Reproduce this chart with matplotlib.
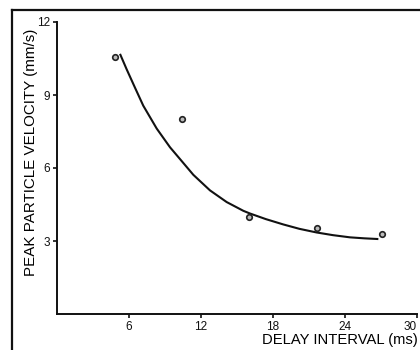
import matplotlib.pyplot as plt
from matplotlib.lines import Line2D

# measured points
delay = [4.8, 10.4, 16.0, 21.7, 27.1]
velocity = [10.55, 8.0, 4.0, 3.54, 3.29]

# fitted curve
curve_x = [5.25, 5.81, 6.5, 7.19, 8.31, 9.42, 10.4, 11.36, 12.75, 14.14,
           15.53, 16.08, 17.4, 18.86, 20.2, 21.64, 23.0, 24.42, 25.6, 26.78]
curve_y = [10.69, 10.05, 9.30, 8.56, 7.62, 6.85, 6.28, 5.72, 5.08, 4.60,
           4.24, 4.13, 3.90, 3.68, 3.50, 3.35, 3.24, 3.15, 3.11, 3.08]

xticks = [6, 12, 18, 24, 30]
yticks = [3, 6, 9, 12]

plt.rcParams['font.family'] = ['Liberation Sans', 'DejaVu Sans']

fig = plt.figure(figsize=(4.2, 3.5), dpi=100)
ax = fig.add_axes([57 / 420, 36 / 350, 360 / 420, 292 / 350])

ax.plot(curve_x, curve_y, color="#111111", lw=1.5, solid_capstyle="butt", solid_joinstyle="round")
ax.plot(delay, velocity, "o", ms=4, mfc="#bbbbbb", mec="#222222", mew=1.2)

ax.set_xlim(0, 30)
ax.set_ylim(0, 12)
ax.set_xticks(xticks)
ax.set_yticks(yticks)
ax.tick_params(direction="out", length=3, width=1.2, labelsize=8.5, pad=2, colors="#111111")
ax.get_xticklabels()[-1].set_ha("right")
for s in ["top", "right"]:
    ax.spines[s].set_visible(False)
for s in ["left", "bottom"]:
    ax.spines[s].set_linewidth(1.4)
    ax.spines[s].set_color("#111111")

fig.text(418 / 420, 1 - 340 / 350, "DELAY INTERVAL (ms)", ha="right", va="center", fontsize=10.6)
fig.text(31 / 420, 1 - 152 / 350, "PEAK PARTICLE VELOCITY (mm/s)", ha="center", va="center",
         rotation=90, fontsize=10.9)

# outer frame, open at right and bottom
fig.add_artist(Line2D([12 / 420, 12 / 420], [1 - 10 / 350, 0], transform=fig.transFigure, color="#111111", lw=1.6))
fig.add_artist(Line2D([12 / 420, 1], [1 - 10 / 350, 1 - 10 / 350], transform=fig.transFigure, color="#111111", lw=1.6))

fig.savefig("out.png", dpi=100)
